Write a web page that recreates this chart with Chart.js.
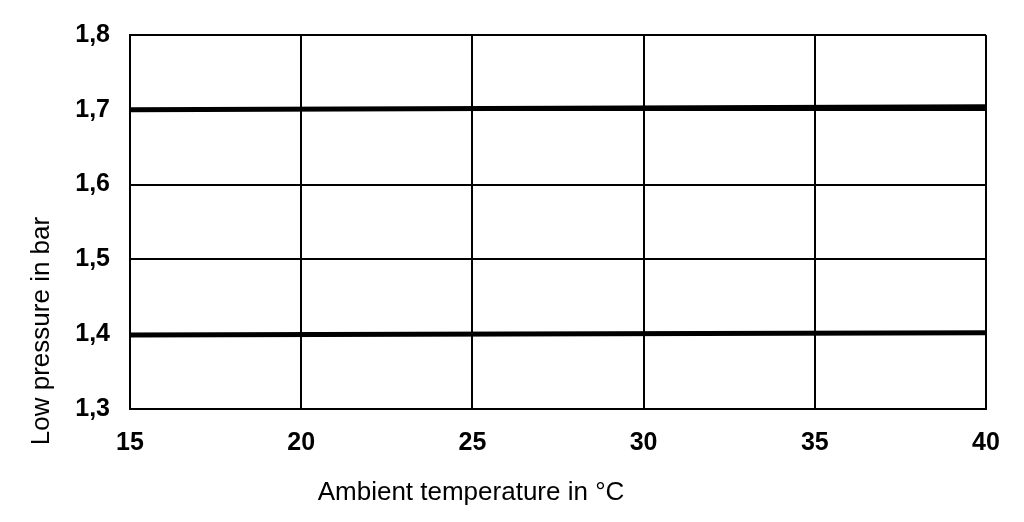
<!DOCTYPE html>
<html>
<head>
<meta charset="utf-8">
<script src="https://cdn.jsdelivr.net/npm/chart.js@4/dist/chart.umd.min.js"></script>
<style>
  html, body { margin: 0; padding: 0; background: #fff; }
  #wrap { width: 1024px; height: 522px; }
</style>
</head>
<body>
<div id="wrap"><canvas id="mycanvas" width="1024" height="522"></canvas></div>
<script>
// values
var temps = [15, 40];
var upperLine = [1.700, 1.704];
var lowerLine = [1.399, 1.402];
var xTicks = [15, 20, 25, 30, 35, 40];
var yTicks = [1.3, 1.4, 1.5, 1.6, 1.7, 1.8];
var xTitle = "Ambient temperature in °C";
var yTitle = "Low pressure in bar";

function pts(ys) {
  var out = [];
  for (var i in temps) {
    out.push({ x: temps[i], y: ys[i] });
  }
  return out;
}

// axis titles are placed off-centre in the original, so draw them here
var titlePlugin = {
  id: 'titles',
  afterDraw: function (chart) {
    var ctx = chart.ctx;
    var a = chart.chartArea;
    ctx.save();
    ctx.fillStyle = '#000';
    ctx.font = '26px "Liberation Sans", Arial, sans-serif';
    ctx.textAlign = 'center';
    ctx.textBaseline = 'middle';
    ctx.fillText(xTitle, a.left + 341, a.bottom + 84);
    ctx.translate(a.left - 88, a.top + 296);
    ctx.rotate(-Math.PI / 2);
    ctx.fillText(yTitle, 0, 0);
    ctx.restore();
  }
};

var lineStyle = {
  borderColor: '#000',
  borderWidth: 5,
  pointRadius: 0,
  showLine: true,
  fill: false,
  tension: 0
};

var chartdata = {
  datasets: [
    Object.assign({ label: 'upper', data: pts(upperLine) }, lineStyle),
    Object.assign({ label: 'lower', data: pts(lowerLine) }, lineStyle)
  ]
};

var tickFont = { family: '"Liberation Sans", Arial, sans-serif', size: 25, weight: 'bold' };

var LineGraph = new Chart(document.getElementById('mycanvas'), {
  type: 'scatter',
  data: chartdata,
  options: {
    responsive: false,
    animation: false,
    layout: { padding: { left: 0, right: 38, top: 32, bottom: 0 } },
    plugins: { legend: { display: false }, tooltip: { enabled: false } },
    scales: {
      x: {
        type: 'linear',
        min: 15,
        max: 40,
        afterBuildTicks: function (s) { s.ticks = xTicks.map(function (v) { return { value: v }; }); },
        afterFit: function (s) { s.height = 113; },
        grid: { color: '#000', lineWidth: 2, drawTicks: false },
        border: { color: '#000', width: 2 },
        ticks: { color: '#000', font: tickFont, padding: 19, maxRotation: 0 }
      },
      y: {
        type: 'linear',
        min: 1.3,
        max: 1.8,
        afterBuildTicks: function (s) { s.ticks = yTicks.map(function (v) { return { value: v }; }); },
        afterFit: function (s) { s.width = 130; },
        grid: { color: '#000', lineWidth: 2, drawTicks: false },
        border: { color: '#000', width: 2 },
        ticks: {
          color: '#000',
          font: tickFont,
          padding: 20,
          callback: function (v) { return Number(v).toFixed(1).replace('.', ','); }
        }
      }
    }
  },
  plugins: [titlePlugin]
});
</script>
</body>
</html>
